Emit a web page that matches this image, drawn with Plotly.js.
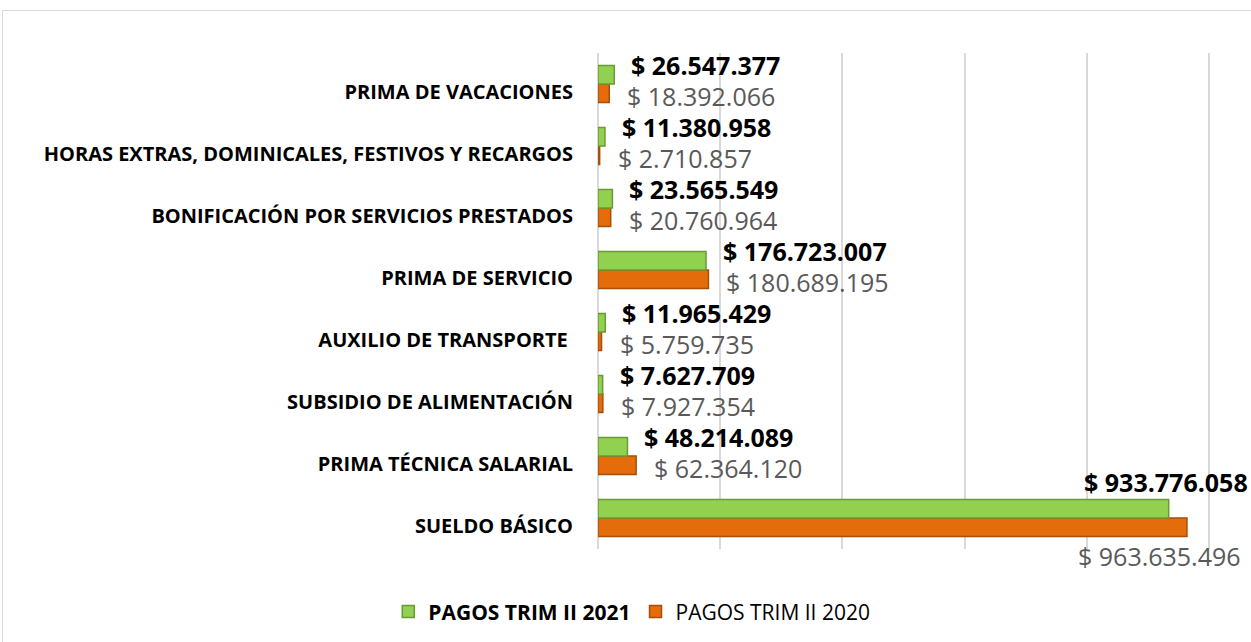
<!DOCTYPE html>
<html>
<head>
<meta charset="utf-8">
<script src="https://cdn.plot.ly/plotly-3.0.1.min.js"></script>
<style>
  html, body { margin: 0; padding: 0; background: #fff; }
  #wrap { position: relative; width: 1251px; height: 642px; }
  #frame { position: absolute; left: 2px; top: 10px; width: 1260px; height: 640px; border: 1px solid #d9d9d9; box-sizing: border-box; pointer-events: none; }
  #chart { position: absolute; left: 0; top: 0; width: 1251px; height: 642px; }
</style>
</head>
<body>
<div id="wrap">
  <div id="chart"></div>
  <div id="frame"></div>
</div>
<script>
// Categories, bottom to top
const categories = [
  "SUELDO BÁSICO",
  "PRIMA TÉCNICA SALARIAL",
  "SUBSIDIO DE ALIMENTACIÓN",
  "AUXILIO DE TRANSPORTE ",
  "PRIMA DE SERVICIO",
  "BONIFICACIÓN POR SERVICIOS PRESTADOS",
  "HORAS EXTRAS, DOMINICALES, FESTIVOS Y RECARGOS",
  "PRIMA DE VACACIONES"
];
const pagos2021 = [933776058, 48214089, 7627709, 11965429, 176723007, 23565549, 11380958, 26547377];
const pagos2020 = [963635496, 62364120, 7927354, 5759735, 180689195, 20760964, 2710857, 18392066];
const seriesNames = ["PAGOS TRIM II 2021", "PAGOS TRIM II 2020"];

function fmt(v) {
  return "$ " + String(v).replace(/\B(?=(\d{3})+(?!\d))/g, ".");
}

const GREEN = "#92D050", GREEN_D = "#6A9A35";
const ORANGE = "#E46C0A", ORANGE_D = "#A94E06";
const FONT = "Open Sans, sans-serif";

const traces = [
  {
    type: "bar", orientation: "h", name: seriesNames[1],
    y: categories, x: pagos2020,
    marker: { color: ORANGE, line: { color: ORANGE_D, width: 1.5 } },
    legendrank: 2, hoverinfo: "x+y"
  },
  {
    type: "bar", orientation: "h", name: "<b>" + seriesNames[0] + "</b>",
    y: categories, x: pagos2021,
    marker: { color: GREEN, line: { color: GREEN_D, width: 1.5 } },
    legendrank: 1, hoverinfo: "x+y"
  }
];

const XMAX = 1e9;
const annotations = [];
categories.forEach((c, i) => {
  const big = Math.max(pagos2021[i], pagos2020[i]) > 0.6 * XMAX;
  annotations.push({
    x: pagos2021[i], y: c, xref: "x", yref: "y",
    text: "<b>" + fmt(pagos2021[i]) + "</b>",
    showarrow: false,
    xanchor: big ? "right" : "left",
    xshift: big ? 81 : 15,
    yshift: big ? 36 : 19,
    font: { family: FONT, size: 25, color: "#000000" }
  });
  annotations.push({
    x: pagos2020[i], y: c, xref: "x", yref: "y",
    text: fmt(pagos2020[i]),
    showarrow: false,
    xanchor: big ? "right" : "left",
    xshift: big ? 56 : 16,
    yshift: big ? -38 : -12,
    font: { family: FONT, size: 25, color: "#595959" }
  });
});

const layout = {
  width: 1251, height: 642,
  margin: { l: 598, r: 40, t: 53, b: 93, pad: 0 },
  paper_bgcolor: "#ffffff", plot_bgcolor: "#ffffff",
  font: { family: FONT, color: "#000000" },
  barmode: "group",
  bargap: 0.4, bargroupgap: 0,
  showlegend: true,
  legend: {
    orientation: "h", xref: "container", yref: "container",
    x: 0.505, xanchor: "center", y: 0.047, yanchor: "middle",
    font: { family: FONT, size: 21, color: "#000000" },
    itemclick: false
  },
  xaxis: {
    range: [0, XMAX * 1.003], dtick: 2e8, tick0: 0,
    showticklabels: false, ticks: "",
    showgrid: true, gridcolor: "#d9d9d9", gridwidth: 1.5,
    zeroline: true, zerolinecolor: "#d9d9d9", zerolinewidth: 1.5,
    showline: false, fixedrange: true
  },
  yaxis: {
    type: "category", categoryorder: "array", categoryarray: categories,
    range: [-0.5, categories.length - 0.5], autorange: false,
    ticks: "", showgrid: false, zeroline: false, showline: false,
    ticklabelstandoff: 24, ticklabelshift: 8,
    tickfont: { family: FONT, size: 20, color: "#000000", weight: "bold" },
    automargin: false, fixedrange: true
  },
  annotations: annotations
};

Plotly.newPlot("chart", traces, layout, { displayModeBar: false, staticPlot: false });
</script>
</body>
</html>
